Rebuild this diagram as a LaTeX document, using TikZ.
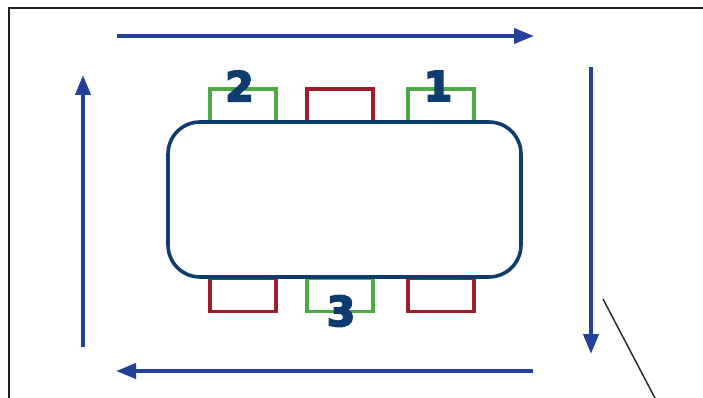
\documentclass[tikz,border=0pt]{standalone}
\usepackage{fontspec}
\newfontfamily\numfont[FakeBold=4.5]{DejaVu Sans Bold}
\usetikzlibrary{arrows.meta}
\definecolor{flow}{HTML}{24409A}
\definecolor{navy}{HTML}{0E3C6E}
\definecolor{chairg}{HTML}{4DAA47}
\definecolor{chairr}{HTML}{9F1D2B}
\definecolor{frame}{HTML}{231F20}
\begin{document}
\begin{tikzpicture}[x=1pt,y=-1pt,
  flowarrow/.style={draw=flow,line width=4pt,-{Triangle[length=20pt,width=15pt]}},
  chair/.style={draw,line width=3.2pt,minimum width=66pt,minimum height=33pt,inner sep=0pt,anchor=center},
  green chair/.style={chair,draw=chairg},
  red chair/.style={chair,draw=chairr},
  seatnum/.style={text=navy,font=\numfont\fontsize{41}{41}\selectfont,inner sep=0pt}]
\useasboundingbox (0,0) rectangle (703,398);
% frame
\coordinate (ftl) at (9,8);
\coordinate (ftr) at (703,8);
\coordinate (fbl) at (9,398);
\draw[frame,line width=2.6pt] (fbl) -- (ftl) -- (ftr);
% chairs (drawn first, table on top)
\node[green chair] (c2) at (243,105.5) {};
\node[red chair] (ct) at (340,105.5) {};
\node[green chair] (c1) at (441,105.5) {};
\node[red chair] (cb1) at (243,295) {};
\node[green chair] (c3) at (340,295) {};
\node[red chair] (cb2) at (441,295) {};
% table
\node[draw=navy,line width=3.6pt,fill=white,rounded corners=32pt,minimum width=353pt,minimum height=155pt,inner sep=0pt] (table) at (344.5,199.5) {};
% seat numbers
\node[seatnum] (n2) at (239.5,86) {2};
\node[seatnum] (n1) at (438,86) {1};
\node[seatnum] (n3) at (341,311) {3};
% flow arrows
\coordinate (t1) at (117,36); \coordinate (t2) at (534,36);
\coordinate (r1) at (591,67); \coordinate (r2) at (591,354);
\coordinate (b1) at (533,371); \coordinate (b2) at (116,371);
\coordinate (l1) at (83,347); \coordinate (l2) at (83,75);
\draw[flowarrow] (t1) -- (t2);
\draw[flowarrow] (r1) -- (r2);
\draw[flowarrow] (b1) -- (b2);
\draw[flowarrow] (l1) -- (l2);
% diagonal line
\coordinate (d1) at (603,299);
\coordinate (d2) at (656,400);
\draw[frame,line width=1.4pt] (d1) -- (d2);
\end{tikzpicture}
\end{document}
